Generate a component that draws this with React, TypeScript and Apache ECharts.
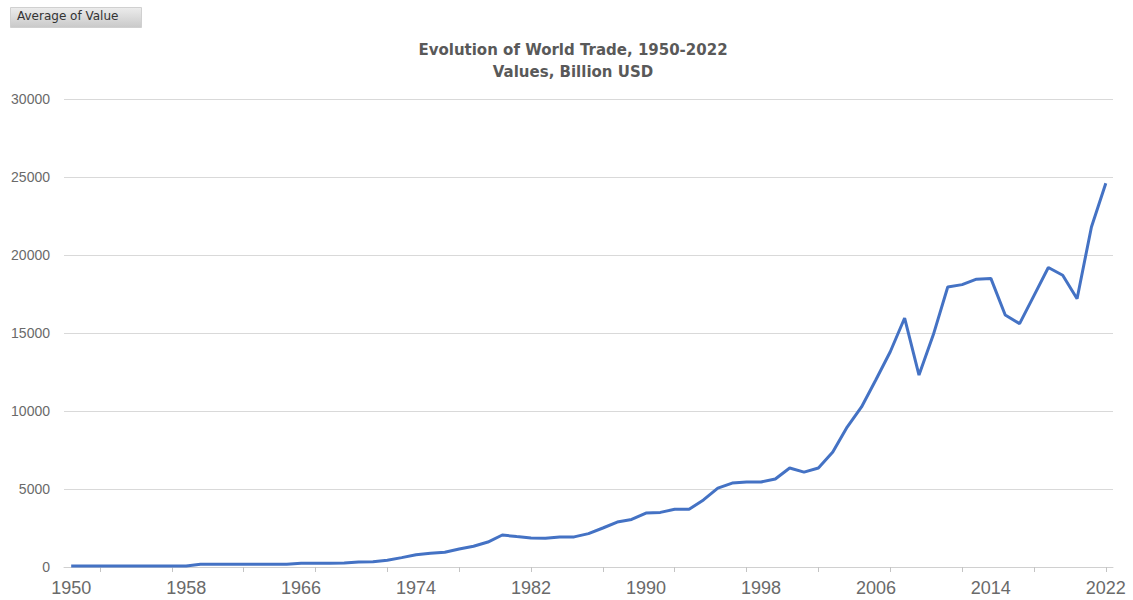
import React, { useEffect, useRef } from "react";
import * as echarts from "echarts";

const years: string[] = [];
for (let y = 1950; y <= 2022; y++) years.push(String(y));

const tradeValues: number[] = [
  60, 60, 60, 60, 60, 60, 60, 60, 60, 170, // 1950-1959
  170, 170, 170, 170, 170, 170, 240, 240, 240, 250, // 1960-1969
  320, 330, 430, 600, 780, 880, 950, 1150, 1330, 1600, // 1970-1979
  2050, 1950, 1860, 1850, 1930, 1930, 2140, 2500, 2880, 3050, // 1980-1989
  3460, 3500, 3700, 3700, 4300, 5060, 5380, 5450, 5450, 5640, // 1990-1999
  6350, 6080, 6350, 7370, 8970, 10260, 12000, 13800, 15960, 12300, // 2000-2009
  14900, 17950, 18100, 18450, 18500, 16150, 15600, 17400, 19200, 18700, // 2010-2019
  17200, 21800, 24600, // 2020-2022
];

const titleLines = ["Evolution of World Trade, 1950-2022", "Values, Billion USD"];
const buttonLabel = "Average of Value";

export default function App() {
  const ref = useRef<HTMLDivElement>(null);
  useEffect(() => {
    if (!ref.current) return;
    const chart = echarts.init(ref.current, undefined, { renderer: "svg" });
    chart.setOption({
      animation: false,
      backgroundColor: "#ffffff",
      title: {
        text: titleLines.join("\n"),
        left: 568,
        textAlign: "center",
        top: 34,
        textStyle: {
          fontFamily: "DejaVu Sans, sans-serif",
          fontSize: 15,
          fontWeight: "bold",
          color: "#595959",
          lineHeight: 22,
        },
      },
      graphic: [
        {
          type: "rect",
          left: 10,
          top: 7,
          shape: { width: 131, height: 20 },
          style: {
            fill: new echarts.graphic.LinearGradient(0, 0, 0, 1, [
              { offset: 0, color: "#ececec" },
              { offset: 1, color: "#c9c9c9" },
            ]),
            stroke: "#d0d0d0",
            lineWidth: 1,
          },
        },
        {
          type: "text",
          left: 17,
          top: 10,
          style: {
            text: buttonLabel,
            fontFamily: "DejaVu Sans, sans-serif",
            fontSize: 12,
            fill: "#333333",
          },
        },
      ],
      grid: { left: 64, right: 20, top: 99, bottom: 33, containLabel: false },
      xAxis: {
        type: "category",
        data: years,
        boundaryGap: true,
        axisLine: { lineStyle: { color: "#d0d0d0", width: 1 } },
        axisTick: {
          show: true,
          alignWithLabel: true,
          interval: (i: number) => i % 5 === 2,
          length: 5,
          lineStyle: { color: "#c4c4c4", width: 1 },
        },
        axisLabel: {
          interval: (i: number) => i % 8 === 0,
          color: "#6a6a6a",
          fontSize: 18,
          fontFamily: "Liberation Sans, Arial, sans-serif",
          margin: 12,
        },
        splitLine: { show: false },
      },
      yAxis: {
        type: "value",
        min: 0,
        max: 30000,
        interval: 5000,
        axisLine: { show: false },
        axisTick: { show: false },
        axisLabel: {
          color: "#6a6a6a",
          fontSize: 14,
          fontFamily: "Liberation Sans, Arial, sans-serif",
          margin: 14,
          formatter: (v: number) => String(v),
        },
        splitLine: { lineStyle: { color: "#d9d9d9", width: 1 } },
      },
      series: [
        {
          type: "line",
          data: tradeValues,
          showSymbol: false,
          symbol: "none",
          lineStyle: { color: "#4472C4", width: 3 },
          itemStyle: { color: "#4472C4" },
        },
      ],
    });
    return () => chart.dispose();
  }, []);
  return (
    <div
      ref={ref}
      style={{ position: "fixed", left: 0, top: 0, width: 1133, height: 600 }}
    />
  );
}
